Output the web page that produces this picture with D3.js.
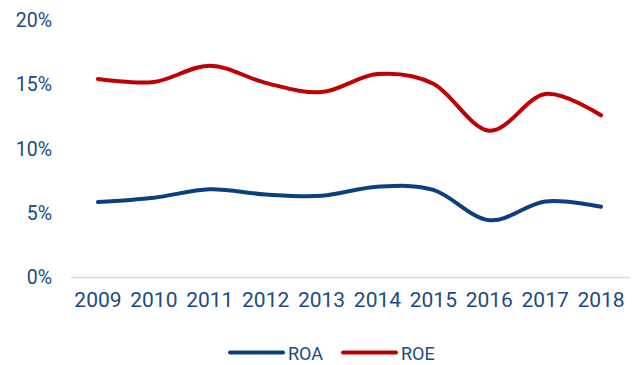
<!DOCTYPE html>
<html><head><meta charset="utf-8">
<script src="https://cdn.jsdelivr.net/npm/d3@7/dist/d3.min.js"></script>
<style>body{margin:0;background:#fff}svg{display:block}</style>
</head><body><svg id="c" width="640" height="365"></svg>
<script>
const years = ["2009","2010","2011","2012","2013","2014","2015","2016","2017","2018"];
const roa = [5.86, 6.2, 6.85, 6.45, 6.35, 7.05, 6.8, 4.45, 5.9, 5.5];
const roe = [15.42, 15.18, 16.45, 15.12, 14.4, 15.8, 15.05, 11.4, 14.25, 12.6];
const yTicks = [0, 5, 10, 15, 20];
const seriesNames = ["ROA", "ROE"];
const colors = ["#0b3f7f", "#c00000"];
const textColor = "#1b4a84";
const font = "Roboto,'Liberation Sans',Arial,sans-serif";

const svg = d3.select("#c");
const x = d3.scaleBand().domain(years).range([70, 629]);
const y = d3.scaleLinear().domain([0, 20]).range([277.5, 20]);

// baseline
svg.append("line").attr("x1", 71).attr("x2", 630).attr("y1", y(0)).attr("y2", y(0))
  .attr("stroke", "#d9d9d9").attr("stroke-width", 1.5);

// y axis labels
const ya = svg.append("g").attr("transform", "translate(52,0)")
  .call(d3.axisLeft(y).tickValues(yTicks).tickFormat(d => d + "%").tickSize(0).tickPadding(0));
ya.select(".domain").remove();
ya.selectAll("text").attr("fill", textColor).style("font-family", font).style("font-size", "19.5px");

// x axis labels
const xa = svg.append("g").attr("transform", `translate(0,${y(0)})`)
  .call(d3.axisBottom(x).tickSize(0).tickPadding(15));
xa.select(".domain").remove();
xa.selectAll("text").attr("fill", textColor).style("font-family", font).style("font-size", "21px");

const line = d3.line().x((d, i) => x(years[i]) + x.bandwidth() / 2).y(d => y(d))
  .curve(d3.curveCardinal.tension(0));
[roa, roe].forEach((s, k) => {
  svg.append("path").attr("d", line(s)).attr("fill", "none")
    .attr("stroke", colors[k]).attr("stroke-width", 4).attr("stroke-linecap", "round");
});

// legend
const lg = svg.append("g");
const lx = [230, 343];
seriesNames.forEach((n, k) => {
  lg.append("line").attr("x1", lx[k]).attr("x2", lx[k] + 53).attr("y1", 352.5).attr("y2", 352.5)
    .attr("stroke", colors[k]).attr("stroke-width", 4).attr("stroke-linecap", "round");
  lg.append("text").attr("x", lx[k] + 58).attr("y", 353.5).attr("dy", "0.35em")
    .attr("fill", textColor).style("font-family", font).style("font-size", "18px").text(n);
});
</script></body></html>
